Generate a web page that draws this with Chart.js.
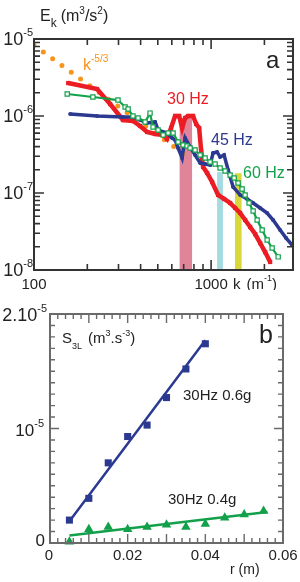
<!DOCTYPE html>
<html>
<head>
<meta charset="utf-8">
<script src="https://cdn.jsdelivr.net/npm/chart.js@4/dist/chart.umd.min.js"></script>
<style>
  html, body { margin: 0; padding: 0; background: #fff; }
  canvas { display: block; }
</style>
</head>
<body>
<canvas id="spectrum" width="300" height="290"></canvas>
<canvas id="structure" width="300" height="292"></canvas>
<script>
// ---------------- PANEL A : ENERGY SPECTRA E(k) ----------------
const k30 = [156, 227, 269, 318, 362, 397, 435, 483, 536, 564, 594, 626, 660, 686, 713, 742, 791, 823, 856, 878, 901, 949, 1013, 1095, 1184, 1280, 1366, 1458, 1556, 1661, 1773, 1892, 2019, 2154];
const e30 = [2.68e-6, 2.24e-6, 1.43e-6, 8.87e-7, 8.61e-7, 7.42e-7, 6.20e-7, 5.84e-7, 5.67e-7, 5.03e-7, 6.99e-7, 1.0e-6, 1.0e-6, 6.99e-7, 9.42e-7, 1.0e-6, 1.0e-6, 7.87e-7, 6.99e-7, 3.62e-7, 2.18e-7, 1.82e-7, 1.39e-7, 9.42e-8, 8.36e-8, 7.42e-8, 6.39e-8, 5.50e-8, 4.46e-8, 3.62e-8, 2.93e-8, 2.24e-8, 1.71e-8, 1.27e-8];

const k45 = [160, 227, 318, 362, 397, 435, 483, 502, 536, 564, 602, 626, 651, 686, 713, 761, 812, 867, 925, 987, 1026, 1081, 1124, 1184, 1248, 1331, 1458, 1597, 1727, 1892, 2072, 2240, 2454, 2652, 2868];
const e45 = [1.06e-6, 1.0e-6, 9.71e-7, 9.71e-7, 8.87e-7, 8.11e-7, 8.36e-7, 6.58e-7, 6.20e-7, 6.02e-7, 5.18e-7, 4.88e-7, 3.84e-7, 2.85e-7, 5.18e-7, 3.96e-7, 3.12e-7, 2.45e-7, 2.38e-7, 2.31e-7, 3.31e-7, 3.41e-7, 2.93e-7, 3.12e-7, 1.99e-7, 1.20e-7, 9.42e-8, 8.36e-8, 7.42e-8, 6.39e-8, 5.50e-8, 4.46e-8, 3.31e-8, 2.60e-8, 2.11e-8];

const k60 = [154, 215, 298, 327, 340, 362, 387, 424, 452, 470, 502, 536, 572, 610, 651, 695, 732, 761, 812, 867, 925, 987, 1053, 1124, 1200, 1280, 1349, 1421, 1497, 1556, 1639, 1727, 1820, 1942, 2072, 2211, 2391];
const e60 = [1.93e-6, 1.765e-6, 1.61e-6, 1.31e-6, 1.23e-6, 1.0e-6, 9.42e-7, 8.36e-7, 1.09e-6, 7.20e-7, 6.58e-7, 5.67e-7, 6.02e-7, 6.02e-7, 4.60e-7, 4.20e-7, 4.08e-7, 3.84e-7, 3.62e-7, 3.12e-7, 2.85e-7, 2.53e-7, 2.38e-7, 2.11e-7, 1.93e-7, 1.71e-7, 1.57e-7, 1.35e-7, 1.13e-7, 9.42e-8, 7.42e-8, 5.84e-8, 4.46e-8, 3.31e-8, 2.45e-8, 1.93e-8, 1.48e-8];

// k^-5/3 guide line (end points)
const kSlope = [100, 700];
const eSlope = [8.3e-6, 3.24e-7];

// forcing bands : 30 Hz, 45 Hz, 60 Hz
const bandLo  = [662, 1081, 1361];
const bandHi  = [783, 1166, 1490];
const bandTop = [9.4e-7, 1.87e-7, 1.8e-7];

// axis ticks
const kTicks = [100, 200, 300, 400, 500, 600, 700, 800, 900, 1000, 2000];
const kMajor = [100, 1000];
const kLabels = ['100', '1000'];
const eDecades = [1e-5, 1e-6, 1e-7, 1e-8];
const eExp = ['-5', '-6', '-7', '-8'];

// ---------------- PANEL B : THIRD ORDER STRUCTURE FUNCTION ----------------
const r06 = [0.005, 0.01, 0.015, 0.02, 0.025, 0.03, 0.035, 0.04];
const s06 = [0.20e-5, 0.39e-5, 0.70e-5, 0.93e-5, 1.03e-5, 1.27e-5, 1.52e-5, 1.74e-5];
const r04 = [0.005, 0.01, 0.015, 0.02, 0.025, 0.03, 0.035, 0.04, 0.045, 0.05, 0.055];
const s04 = [0.01e-5, 0.12e-5, 0.14e-5, 0.12e-5, 0.14e-5, 0.16e-5, 0.14e-5, 0.165e-5, 0.22e-5, 0.25e-5, 0.28e-5];
const fit06R = [0.005, 0.04];
const fit06S = [0.19e-5, 1.77e-5];
const fit04R = [0.005, 0.056];
const fit04S = [0.065e-5, 0.27e-5];

const rLabels = ['0', '0.02', '0.04', '0.06'];
const rLabelVals = [0, 0.02, 0.04, 0.06];

const red = '#ec1c24', blue = '#2b3990', green = '#13a04a', orange = '#f7941d';
const FONT = '"Liberation Sans", Arial, sans-serif';

function pts(xs, ys) { return xs.map((x, i) => ({ x: x, y: ys[i] })); }

// text made of runs (for superscripts / subscripts)
function runs(ctx, parts, x, y, color, align) {
    ctx.save();
    ctx.fillStyle = color;
    ctx.textBaseline = 'alphabetic';
    ctx.textAlign = 'left';
    let w = 0;
    parts.forEach(p => { ctx.font = p.s + 'px ' + FONT; w += ctx.measureText(p.t).width + (p.g || 0); });
    let cx = align === 'right' ? x - w : align === 'center' ? x - w / 2 : x;
    parts.forEach(p => {
        ctx.font = p.s + 'px ' + FONT;
        ctx.fillText(p.t, cx, y + (p.dy || 0));
        cx += ctx.measureText(p.t).width + (p.g || 0);
    });
    ctx.restore();
}

function tickX(ctx, area, px, len) {
    ctx.moveTo(px, area.bottom); ctx.lineTo(px, area.bottom - len);
    ctx.moveTo(px, area.top); ctx.lineTo(px, area.top + len);
}
function tickY(ctx, area, py, len) {
    ctx.moveTo(area.left, py); ctx.lineTo(area.left + len, py);
    ctx.moveTo(area.right, py); ctx.lineTo(area.right - len, py);
}

// -------- frame, ticks and texts of panel a --------
const frameA = {
    id: 'frameA',
    afterDatasetsDraw(chart) {
        const ctx = chart.ctx, a = chart.chartArea;
        const xs = chart.scales.x, ys = chart.scales.y;
        ctx.save();
        ctx.strokeStyle = '#333';
        ctx.lineWidth = 1.6;
        ctx.beginPath();
        kTicks.forEach(k => tickX(ctx, a, xs.getPixelForValue(k), kMajor.includes(k) ? 10 : 6));
        eDecades.forEach((d, i) => {
            tickY(ctx, a, ys.getPixelForValue(d), 10);
            if (i < eDecades.length - 1) {
                for (let m = 2; m <= 9; m++) tickY(ctx, a, ys.getPixelForValue(d / 10 * m), 6);
            }
        });
        ctx.stroke();
        ctx.lineWidth = 2;
        ctx.strokeRect(a.left, a.top, a.right - a.left, a.bottom - a.top);
        ctx.restore();

        eDecades.forEach((d, i) => {
            const py = ys.getPixelForValue(d);
            runs(ctx, [{ t: '10', s: 18 }, { t: eExp[i], s: 11, dy: -9 }], 33, py + 6, '#222', 'right');
        });
        kMajor.forEach((k, i) => {
            runs(ctx, [{ t: kLabels[i], s: 15 }], xs.getPixelForValue(k), 289, '#222', 'center');
        });
        runs(ctx, [{ t: 'k', s: 15, g: 6 }, { t: '(m', s: 15 }, { t: '-1', s: 9, dy: -8 }, { t: ')', s: 15 }], 233, 289, '#222', 'left');
        runs(ctx, [{ t: 'E', s: 16 }, { t: 'k', s: 12, dy: 6, g: 4 }, { t: '(m', s: 16 }, { t: '3', s: 10, dy: -7 }, { t: '/s', s: 16 }, { t: '2', s: 10, dy: -7 }, { t: ')', s: 16 }], 40, 21, '#222', 'left');
        runs(ctx, [{ t: 'a', s: 24 }], 266, 68, '#222', 'left');
        runs(ctx, [{ t: 'k', s: 16 }, { t: '-5/3', s: 10, dy: -8 }], 83, 70, orange, 'left');
        runs(ctx, [{ t: '30 Hz', s: 16 }], 167, 104, red, 'left');
        runs(ctx, [{ t: '45 Hz', s: 16 }], 211, 145, blue, 'left');
        runs(ctx, [{ t: '60 Hz', s: 16 }], 243, 178, green, 'left');
    }
};

const bandColors = ['#e0849a', '#a4dbe0', '#d8d83c'];
const bandSets = bandLo.map((lo, i) => ({
    data: [{ x: lo, y: bandTop[i] }, { x: bandHi[i], y: bandTop[i] }],
    showLine: true, borderWidth: 0, pointRadius: 0,
    backgroundColor: bandColors[i],
    fill: { value: 0.92e-8 }, clip: false, order: 10
}));

new Chart(document.getElementById('spectrum'), {
    type: 'scatter',
    data: {
        datasets: [
            {
                data: pts(k60, e60), showLine: true, order: 0,
                borderColor: green, borderWidth: 2.2,
                pointStyle: 'rect', pointRadius: 3, pointBorderWidth: 1.2,
                pointBorderColor: green, pointBackgroundColor: '#fff'
            },
            {
                data: pts(k45, e45), showLine: true, order: 1,
                borderColor: blue, borderWidth: 3.5,
                pointStyle: 'circle', pointRadius: 2, pointBorderWidth: 0,
                pointBackgroundColor: blue
            },
            {
                data: pts(k30, e30), showLine: true, order: 2,
                borderColor: red, borderWidth: 4.5,
                pointStyle: 'rect', pointRadius: 3, pointBorderWidth: 0,
                pointBackgroundColor: red
            },
            {
                data: pts(kSlope, eSlope), showLine: true, order: 3,
                borderColor: orange, borderWidth: 5,
                borderDash: [0, 11.5], borderCapStyle: 'round',
                pointRadius: 0
            },
            ...bandSets
        ]
    },
    options: {
        responsive: false,
        animation: false,
        layout: { padding: { left: 34, right: 7, top: 39, bottom: 20 } },
        scales: {
            x: { type: 'logarithmic', min: 100, max: 2900, display: false },
            y: { type: 'logarithmic', min: 1e-8, max: 1e-5, display: false }
        },
        plugins: { legend: { display: false }, tooltip: { enabled: false } }
    },
    plugins: [frameA]
});

// -------- frame, ticks and texts of panel b --------
const frameB = {
    id: 'frameB',
    afterDatasetsDraw(chart) {
        const ctx = chart.ctx, a = chart.chartArea;
        const xs = chart.scales.x, ys = chart.scales.y;
        ctx.save();
        ctx.strokeStyle = '#6a6a6a';
        ctx.lineWidth = 1.4;
        ctx.beginPath();
        for (let i = 1; i < 30; i++) {
            const v = i * 0.002;
            tickX(ctx, a, xs.getPixelForValue(v), i % 5 === 0 ? 9 : 5);
        }
        for (let j = 1; j < 20; j++) {
            tickY(ctx, a, ys.getPixelForValue(j * 1e-6), j % 10 === 0 ? 9 : 5);
        }
        ctx.stroke();
        ctx.lineWidth = 2;
        ctx.strokeRect(a.left, a.top, a.right - a.left, a.bottom - a.top);
        ctx.restore();

        rLabelVals.forEach((v, i) => {
            runs(ctx, [{ t: rLabels[i], s: 15 }], xs.getPixelForValue(v) + (i === 0 ? -1 : 0), 270, '#222', 'center');
        });
        runs(ctx, [{ t: 'r (m)', s: 14 }], 230, 284, '#222', 'left');
        runs(ctx, [{ t: '2.10', s: 18 }, { t: '-5', s: 11, dy: -9 }], 47, ys.getPixelForValue(2e-5) + 7, '#222', 'right');
        runs(ctx, [{ t: '10', s: 17 }, { t: '-5', s: 11, dy: -9 }], 44, ys.getPixelForValue(1e-5) + 7, '#222', 'right');
        runs(ctx, [{ t: '0', s: 17 }], 45, ys.getPixelForValue(0) + 3, '#222', 'right');
        runs(ctx, [{ t: 'b', s: 25 }], 259, 53, '#222', 'left');
        runs(ctx, [{ t: 'S', s: 15 }, { t: '3L', s: 9, dy: 6, g: 6 }, { t: '(m', s: 15 }, { t: '3', s: 9, dy: -7 }, { t: '.s', s: 15 }, { t: '-3', s: 9, dy: -7 }, { t: ')', s: 15 }], 62, 53, '#222', 'left');
        runs(ctx, [{ t: '30Hz 0.6g', s: 15 }], 183, 110, '#222', 'left');
        runs(ctx, [{ t: '30Hz 0.4g', s: 15 }], 168, 214, '#222', 'left');
    }
};

new Chart(document.getElementById('structure'), {
    type: 'scatter',
    data: {
        datasets: [
            {
                data: pts(r06, s06), order: 0, clip: false,
                pointStyle: 'rect', pointRadius: 5, pointBorderWidth: 0,
                pointBackgroundColor: blue
            },
            {
                data: pts(r04, s04), order: 1, clip: false,
                pointStyle: 'triangle', pointRadius: 5.5, pointBorderWidth: 0,
                pointBackgroundColor: green
            },
            {
                data: pts(fit06R, fit06S), showLine: true, order: 2,
                borderColor: blue, borderWidth: 2.5, pointRadius: 0
            },
            {
                data: pts(fit04R, fit04S), showLine: true, order: 3,
                borderColor: green, borderWidth: 2.5, pointRadius: 0
            }
        ]
    },
    options: {
        responsive: false,
        animation: false,
        layout: { padding: { left: 50, right: 17, top: 24, bottom: 39 } },
        scales: {
            x: { type: 'linear', min: 0, max: 0.06, display: false },
            y: { type: 'linear', min: 0, max: 2e-5, display: false }
        },
        plugins: { legend: { display: false }, tooltip: { enabled: false } }
    },
    plugins: [frameB]
});
</script>
</body>
</html>
